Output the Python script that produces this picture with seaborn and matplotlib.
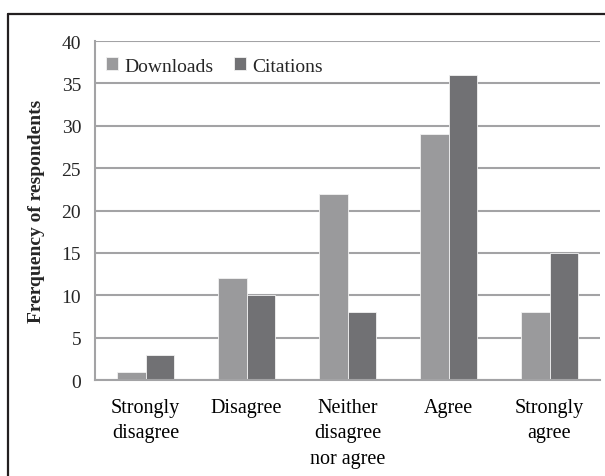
import pandas as pd
import seaborn as sns
import matplotlib.pyplot as plt
from matplotlib.lines import Line2D

categories = ["Strongly\ndisagree", "Disagree", "Neither\ndisagree\nnor agree", "Agree", "Strongly\nagree"]
downloads = [1, 12, 22, 29, 8]
citations = [3, 10, 8, 36, 15]
series = ["Downloads", "Citations"]
colors = ["#9a9a9c", "#717174"]

d = pd.DataFrame({
    "response": categories * 2,
    "count": downloads + citations,
    "source": [series[0]] * len(categories) + [series[1]] * len(categories),
})

sns.set_style("white")
plt.rcParams["font.family"] = ["Liberation Serif", "DejaVu Serif"]

W, H = 605, 477
fig = plt.figure(figsize=(W / 100, H / 100), dpi=100)
ax = fig.add_axes([95 / W, 1 - 381 / H, (600 - 95) / W, (381 - 42) / H])

sns.barplot(data=d, x="response", y="count", hue="source", palette=colors,
            width=0.565, saturation=1, edgecolor="#f2f2f2", linewidth=0.6, ax=ax)

gray = "#a3a3a5"
ax.set_ylim(0, 40)
ax.set_xlim(-0.5, len(categories) - 0.5)
ax.set_yticks(range(0, 41, 5))
ax.yaxis.grid(True, color=gray, lw=1.5)
ax.set_axisbelow(True)
for s in ["top", "right"]:
    ax.spines[s].set_visible(False)
for s in ["left", "bottom"]:
    ax.spines[s].set_color(gray)
    ax.spines[s].set_linewidth(1.5)

ax.set_xticks(range(len(categories)))
ax.set_xticklabels(categories, fontsize=14.5, va="top", ha="center", linespacing=1.45)
ax.set_xticks([i - 0.5 for i in range(len(categories) + 1)], minor=True)
ax.tick_params(axis="x", which="major", length=0, pad=13, colors="black")
ax.tick_params(axis="x", which="minor", length=5, width=1.2, color=gray)
ax.tick_params(axis="y", length=5, width=1.2, color=gray, labelsize=14, pad=5)

ax.set_xlabel("")
ax.set_ylabel("Frerquency of respondents", fontsize=14, fontweight="bold")
ax.yaxis.set_label_coords((45 - 95) / 505, 0.5)

ax.legend(ncol=2, frameon=False, loc="center left", fontsize=14,
          bbox_to_anchor=((106 - 95) / 505, 1 - (67 - 42) / 339),
          borderaxespad=0, borderpad=0, handlelength=0.6, handleheight=0.6,
          handletextpad=0.35, columnspacing=1.05)

# outer frame (left and top edges)
fc = "#231f20"
fig.add_artist(Line2D([8 / W, 8 / W], [0, 1 - 15 / H], color=fc, lw=1.6,
                      transform=fig.transFigure))
fig.add_artist(Line2D([8 / W, 1], [1 - 15 / H, 1 - 15 / H], color=fc, lw=1.6,
                      transform=fig.transFigure))

fig.savefig("out.png", dpi=100)
